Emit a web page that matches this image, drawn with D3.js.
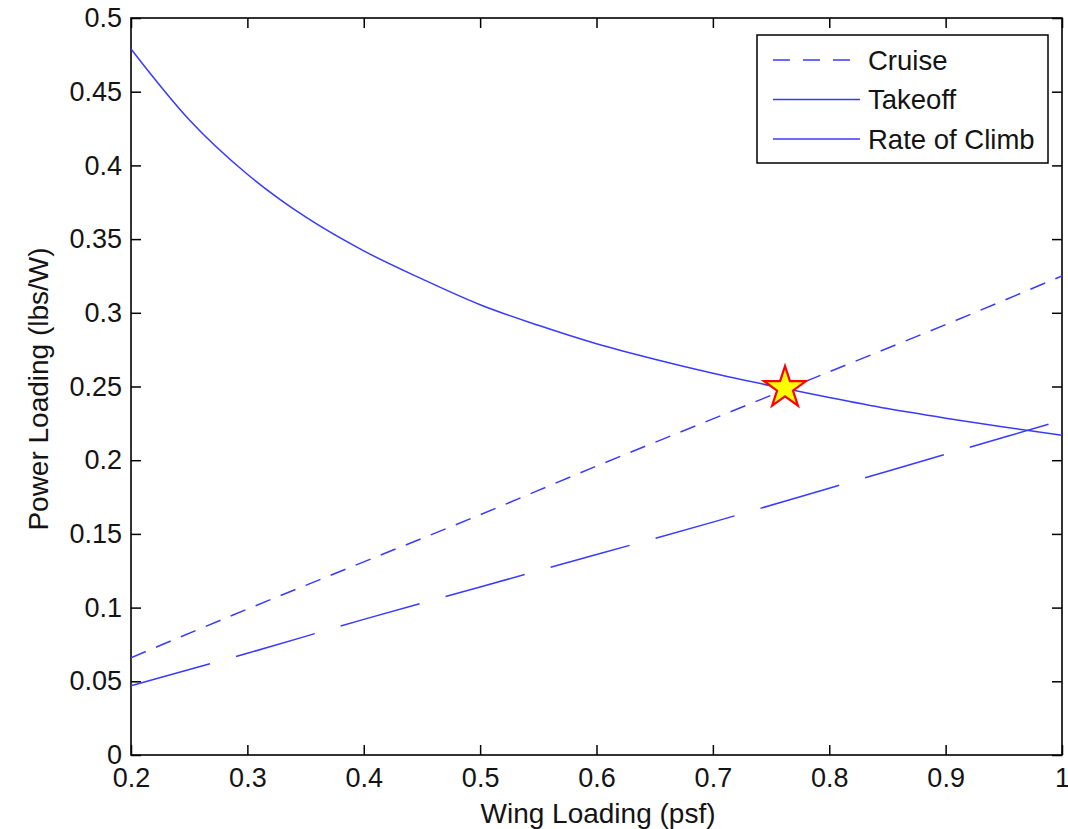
<!DOCTYPE html>
<html>
<head>
<meta charset="utf-8">
<script src="https://cdn.jsdelivr.net/npm/d3@7"></script>
<style>
  html, body { margin: 0; padding: 0; background: #fff; }
  svg { display: block; font-family: "Liberation Sans", Arial, sans-serif; }
</style>
</head>
<body>
<svg id="chart" width="1068" height="829"></svg>
<script>
// ---- data ----
const wingLoading = [0.20, 0.25, 0.30, 0.35, 0.40, 0.45, 0.50, 0.55, 0.60, 0.65, 0.70, 0.75, 0.80, 0.85, 0.90, 0.95, 1.00];
const climbPL     = [0.479, 0.431, 0.394, 0.365, 0.342, 0.323, 0.3055, 0.2915, 0.279, 0.2685, 0.259, 0.2505, 0.2425, 0.235, 0.2285, 0.2225, 0.217];
const cruiseX  = [0.2, 0.3, 0.4, 0.5, 0.6, 0.7, 0.8, 0.9, 1.0];
const cruisePL = [0.066, 0.099, 0.131, 0.163, 0.196, 0.228, 0.260, 0.292, 0.325];
const takeoffX  = [0.2, 0.3, 0.4, 0.5, 0.6, 0.7, 0.8, 0.9, 1.0];
const takeoffPL = [0.047, 0.069, 0.092, 0.114, 0.136, 0.158, 0.181, 0.204, 0.227];
const designPoint = [0.762, 0.249];
const xTicks = [0.2, 0.3, 0.4, 0.5, 0.6, 0.7, 0.8, 0.9, 1];
const yTicks = [0, 0.05, 0.1, 0.15, 0.2, 0.25, 0.3, 0.35, 0.4, 0.45, 0.5];
const legendLabels = ["Cruise", "Takeoff", "Rate of Climb"];
const xTitle = "Wing Loading (psf)";
const yTitle = "Power Loading (lbs/W)";

// ---- layout ----
const L = 131, R = 1062, T = 18, B = 755;
const svg = d3.select("#chart");
const x = d3.scaleLinear().domain([0.2, 1]).range([L, R]);
const y = d3.scaleLinear().domain([0, 0.5]).range([B, T]);
const lineColor = "#3a3aff";
const textColor = "#141414";
const fmt = d => (d === 1 ? "1" : (d === 0 ? "0" : String(+d.toFixed(2))));

// axes (ticks inward, mirrored)
const tickLen = 10;
const gx = svg.append("g").attr("transform", `translate(0,${B})`)
  .call(d3.axisBottom(x).tickValues(xTicks).tickFormat(fmt).tickSizeInner(-tickLen).tickSizeOuter(0).tickPadding(13));
const gy = svg.append("g").attr("transform", `translate(${L},0)`)
  .call(d3.axisLeft(y).tickValues(yTicks).tickFormat(fmt).tickSizeInner(-tickLen).tickSizeOuter(0).tickPadding(9));
const gx2 = svg.append("g").attr("transform", `translate(0,${T})`)
  .call(d3.axisTop(x).tickValues(xTicks).tickFormat("").tickSizeInner(-tickLen).tickSizeOuter(0));
const gy2 = svg.append("g").attr("transform", `translate(${R},0)`)
  .call(d3.axisRight(y).tickValues(yTicks).tickFormat("").tickSizeInner(-tickLen).tickSizeOuter(0));
[gx, gy, gx2, gy2].forEach(g => {
  g.select(".domain").remove();
  g.selectAll("line").attr("stroke", "#000").attr("stroke-width", 1.5);
  g.selectAll("text").attr("fill", textColor).style("font-size", "27px").style("font-family", "'Liberation Sans', Arial, sans-serif");
});
gx.selectAll("text").attr("dy", "0.71em");

// frame
svg.append("rect").attr("x", L).attr("y", T).attr("width", R - L).attr("height", B - T)
  .attr("fill", "none").attr("stroke", "#000").attr("stroke-width", 1.6);

// curves
svg.append("clipPath").attr("id", "clip").append("rect")
  .attr("x", L).attr("y", T).attr("width", R - L).attr("height", B - T);
const plot = svg.append("g").attr("clip-path", "url(#clip)");
const line = d3.line().x(d => x(d[0])).y(d => y(d[1])).curve(d3.curveMonotoneX);

plot.append("path").datum(cruiseX.map((v, i) => [v, cruisePL[i]]))
  .attr("d", line).attr("fill", "none").attr("stroke", lineColor).attr("stroke-width", 1.5)
  .attr("stroke-dasharray", "16,11");
plot.append("path").datum(takeoffX.map((v, i) => [v, takeoffPL[i]]))
  .attr("d", line).attr("fill", "none").attr("stroke", lineColor).attr("stroke-width", 1.5)
  .attr("stroke-dasharray", "82,27");
plot.append("path").datum(wingLoading.map((v, i) => [v, climbPL[i]]))
  .attr("d", line).attr("fill", "none").attr("stroke", lineColor).attr("stroke-width", 1.5);

// star
svg.append("path")
  .attr("d", d3.symbol().type(d3.symbolStar).size(540)())
  .attr("transform", `translate(${x(designPoint[0])},${y(designPoint[1])})`)
  .attr("fill", "#ffff00").attr("stroke", "#ff0000").attr("stroke-width", 2.2);

// legend
const lg = svg.append("g");
lg.append("rect").attr("x", 757).attr("y", 35).attr("width", 291).attr("height", 128)
  .attr("fill", "#fff").attr("stroke", "#000").attr("stroke-width", 1.5);
const dashes = ["17,13", null, null];
legendLabels.forEach((lab, i) => {
  const yy = 60 + i * 39.5;
  const l = lg.append("line").attr("x1", 773).attr("x2", 860).attr("y1", yy).attr("y2", yy)
    .attr("stroke", lineColor).attr("stroke-width", 1.5);
  if (dashes[i]) l.attr("stroke-dasharray", dashes[i]);
  lg.append("text").attr("x", 868).attr("y", yy).attr("dy", "0.35em")
    .style("font-size", "27.5px").attr("fill", textColor).text(lab);
});

// axis titles
svg.append("text").attr("x", 598).attr("y", 823).attr("text-anchor", "middle")
  .style("font-size", "28px").attr("fill", textColor).text(xTitle);
svg.append("text").attr("transform", `translate(48,389) rotate(-90)`).attr("text-anchor", "middle")
  .style("font-size", "28px").attr("fill", textColor).text(yTitle);
</script>
</body>
</html>
